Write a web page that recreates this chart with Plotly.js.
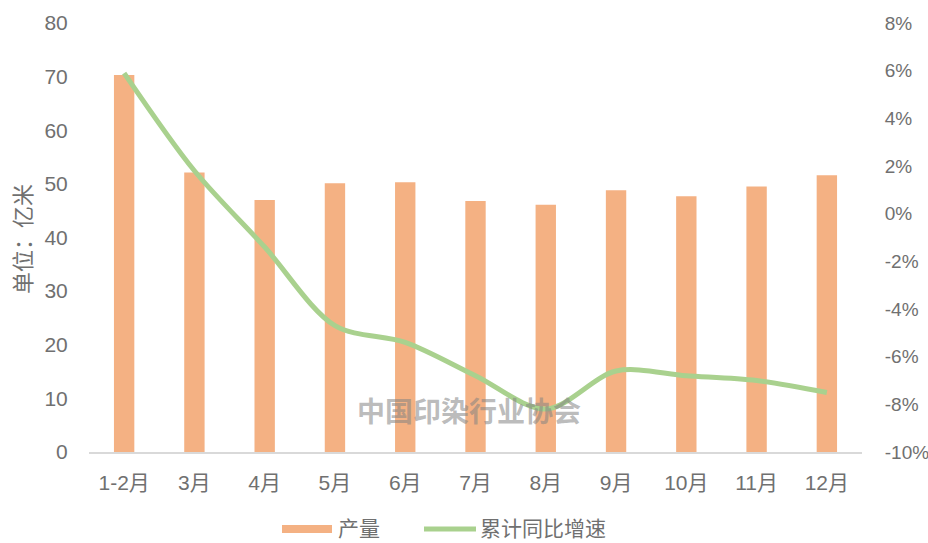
<!DOCTYPE html>
<html>
<head>
<meta charset="utf-8">
<script src="https://cdn.plot.ly/plotly-3.0.1.min.js"></script>
<style>html,body{margin:0;padding:0;background:#fff;}#chart{width:928px;height:543px;}</style>
</head>
<body>
<div id="chart"></div>
<script>
const months = ["1-2月","3月","4月","5月","6月","7月","8月","9月","10月","11月","12月"];
const output = [70.3, 52.1, 47.0, 50.1, 50.3, 46.8, 46.1, 48.8, 47.7, 49.5, 51.6];
const growth = [5.9, 1.8, -1.4, -4.7, -5.4, -6.8, -8.2, -6.6, -6.8, -7.0, -7.5];
const leftTicks = [0,10,20,30,40,50,60,70,80];
const rightTickVals = [8,6,4,2,0,-2,-4,-6,-8,-10];
const rightTickText = ["8%","6%","4%","2%","0%","-2%","-4%","-6%","-8%","-10%"];
const seriesNames = ["产量","累计同比增速"];
const yTitle = "单位：亿米";
const watermark = "中国印染行业协会";

const W = 928, H = 543;
const M = {l: 89, r: 66, t: 23, b: 91};
const pw = W - M.l - M.r, ph = H - M.t - M.b;
const px = x => (x - M.l) / pw;
const py = y => (H - M.b - y) / ph;

const FONT = '"Liberation Sans", "Noto Sans CJK SC", Arial, sans-serif';
const CJK = '"Noto Sans CJK SC", "Liberation Sans", sans-serif';
const GRAY = '#707070';
const ORANGE = '#F4B183';
const GREEN = '#A9D18E';

const traces = [
  {type: 'bar', x: months, y: output, name: seriesNames[0], marker: {color: ORANGE}, width: 0.29, yaxis: 'y', hoverinfo: 'x+y'},
  {type: 'scatter', mode: 'lines', x: months, y: growth, name: seriesNames[1], yaxis: 'y2',
   line: {color: GREEN, width: 5, shape: 'spline', smoothing: 0.9}}
];

const layout = {
  width: W, height: H,
  margin: M,
  paper_bgcolor: '#fff', plot_bgcolor: '#fff',
  showlegend: false,
  font: {family: FONT, color: GRAY},
  xaxis: {
    type: 'category', showgrid: false, zeroline: false,
    showline: true, linecolor: '#D9D9D9', linewidth: 1.5,
    ticks: 'outside', ticklen: 11, tickcolor: 'rgba(0,0,0,0)',
    tickfont: {size: 21, color: GRAY, family: FONT},
    range: [-0.5, 10.5]
  },
  yaxis: {
    range: [0, 80], tickvals: leftTicks, showgrid: false, zeroline: false, showline: false,
    ticks: 'outside', ticklen: 16, tickcolor: 'rgba(0,0,0,0)',
    tickfont: {size: 21, color: GRAY, family: FONT}
  },
  yaxis2: {
    range: [-10, 8], overlaying: 'y', side: 'right',
    tickvals: rightTickVals, ticktext: rightTickText,
    showgrid: false, zeroline: false, showline: false,
    ticks: 'outside', ticklen: 18, tickcolor: 'rgba(0,0,0,0)',
    tickfont: {size: 19, color: GRAY, family: FONT}
  },
  annotations: [
    {xref: 'paper', yref: 'paper', x: px(21), y: py(239), text: yTitle, textangle: -90,
     showarrow: false, font: {size: 22, color: GRAY, family: CJK}, xanchor: 'center', yanchor: 'middle'},
    {xref: 'paper', yref: 'paper', x: px(469), y: py(410), text: '<b>' + watermark + '</b>',
     showarrow: false, font: {size: 28, color: 'rgba(130,130,130,0.55)', family: CJK},
     xanchor: 'center', yanchor: 'middle'},
    {xref: 'paper', yref: 'paper', x: px(336), y: py(528), text: seriesNames[0], showarrow: false,
     font: {size: 21, color: GRAY, family: FONT}, xanchor: 'left', yanchor: 'middle'},
    {xref: 'paper', yref: 'paper', x: px(478), y: py(528), text: seriesNames[1], showarrow: false,
     font: {size: 21, color: GRAY, family: FONT}, xanchor: 'left', yanchor: 'middle'}
  ],
  shapes: [
    {type: 'rect', xref: 'paper', yref: 'paper', x0: px(282), x1: px(332), y0: py(533), y1: py(525),
     fillcolor: ORANGE, line: {width: 0}},
    {type: 'line', xref: 'paper', yref: 'paper', x0: px(424), x1: px(476), y0: py(529), y1: py(529),
     line: {color: GREEN, width: 5}}
  ]
};

Plotly.newPlot('chart', traces, layout, {displayModeBar: false, staticPlot: true});
</script>
</body>
</html>
